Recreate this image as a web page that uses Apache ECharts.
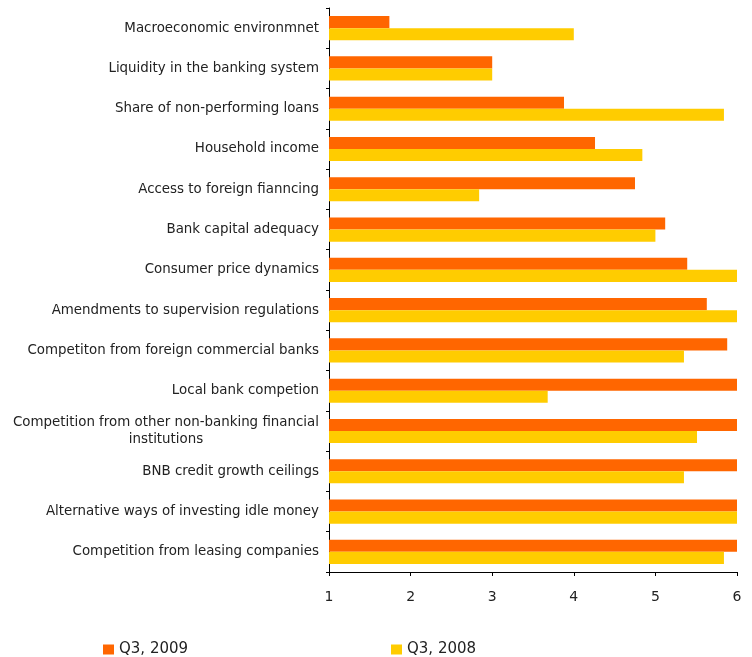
<!DOCTYPE html>
<html>
<head>
<meta charset="utf-8">
<script src="https://cdn.jsdelivr.net/npm/echarts@6/dist/echarts.min.js"></script>
<style>
  html, body { margin: 0; padding: 0; background: #fff; }
  #chart { width: 752px; height: 657px; }
</style>
</head>
<body>
<div id="chart"></div>
<script>
// Factors affecting bank credit standards, average scores (1-6)
const categories = [
  'Macroeconomic environmnet',
  'Liquidity in the banking system',
  'Share of non-performing loans',
  'Household income',
  'Access to foreign fianncing',
  'Bank capital adequacy',
  'Consumer price dynamics',
  'Amendments to supervision regulations',
  'Competiton from foreign commercial banks',
  'Local bank competion',
  'Competition from other non-banking financial\ninstitutions',
  'BNB credit growth ceilings',
  'Alternative ways of investing idle money',
  'Competition from leasing companies'
];
const seriesNames = ['Q3, 2009', 'Q3, 2008'];
const q3_2009 = [1.74, 3.0, 3.88, 4.26, 4.75, 5.12, 5.39, 5.63, 5.88, 6.0, 6.0, 6.0, 6.0, 6.0];
const q3_2008 = [4.0, 3.0, 5.84, 4.84, 2.84, 5.0, 6.0, 6.0, 5.35, 3.68, 5.51, 5.35, 6.0, 5.84];
const xTicks = [1, 2, 3, 4, 5, 6];

const FONT = 'DejaVu Sans';
const LABEL_SIZE = 13.4;
const chart = echarts.init(document.getElementById('chart'), null, { renderer: 'canvas' });

chart.setOption({
  animation: false,
  backgroundColor: '#ffffff',
  textStyle: { fontFamily: FONT },
  grid: { left: 329, right: 15, top: 8, bottom: 85, containLabel: false },
  legend: [
    {
      data: [seriesNames[0]], left: 98, top: 637,
      itemWidth: 11, itemHeight: 10, icon: 'rect',
      textStyle: { fontFamily: FONT, fontSize: 15, color: '#222' }
    },
    {
      data: [seriesNames[1]], left: 386, top: 637,
      itemWidth: 11, itemHeight: 10, icon: 'rect',
      textStyle: { fontFamily: FONT, fontSize: 15, color: '#222' }
    }
  ],
  xAxis: {
    type: 'value',
    min: xTicks[0],
    max: xTicks[xTicks.length - 1],
    interval: 1,
    splitLine: { show: false },
    axisLine: { show: true, lineStyle: { color: '#000', width: 1 } },
    axisTick: { show: true, length: 4, lineStyle: { color: '#000' } },
    axisLabel: { margin: 18, fontSize: 14, color: '#222', fontFamily: FONT }
  },
  yAxis: {
    type: 'category',
    data: categories,
    inverse: true,
    axisLine: { show: true, lineStyle: { color: '#000', width: 1 } },
    axisTick: { show: true, length: 3, lineStyle: { color: '#000' } },
    axisLabel: {
      margin: 10,
      fontSize: LABEL_SIZE,
      color: '#222',
      fontFamily: FONT,
      lineHeight: 17,
      formatter: function (v) {
        return v.split('\n').map(function (s) { return '{c|' + s + '}'; }).join('\n');
      },
      rich: { c: { align: 'center', fontSize: LABEL_SIZE, fontFamily: FONT, color: '#222', lineHeight: 17 } }
    }
  },
  series: [
    {
      name: seriesNames[0], type: 'bar', data: q3_2009,
      itemStyle: { color: '#FF6600' },
      barGap: '0%', barCategoryGap: '40%'
    },
    {
      name: seriesNames[1], type: 'bar', data: q3_2008,
      itemStyle: { color: '#FFCC00' },
      barGap: '0%', barCategoryGap: '40%'
    }
  ]
});
</script>
</body>
</html>
